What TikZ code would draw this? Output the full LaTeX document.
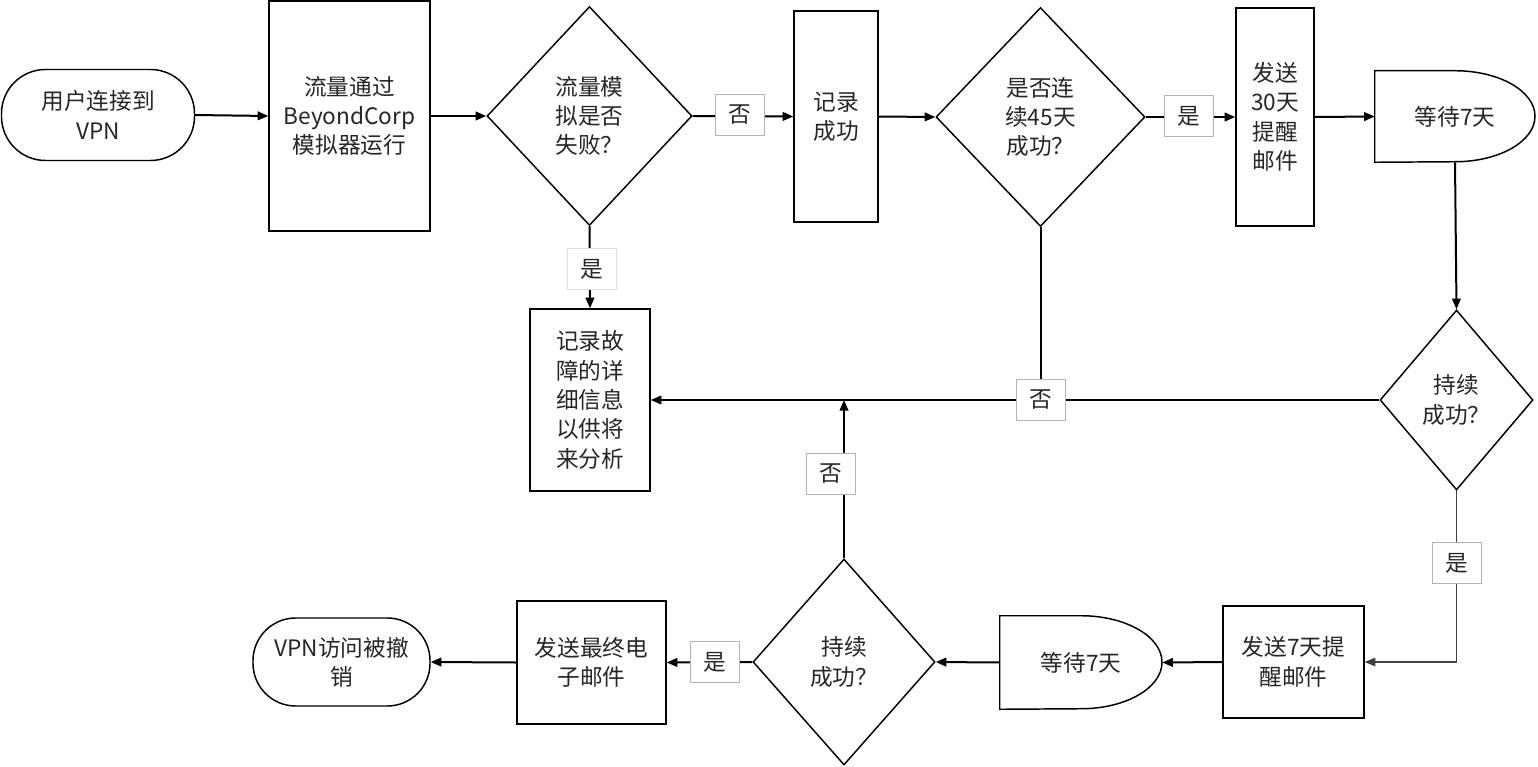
\documentclass[tikz,border=0pt]{standalone}
\usepackage{fontspec}
\setmainfont{Noto Sans CJK SC}
\usetikzlibrary{shapes.geometric,arrows.meta,calc}
\newcommand\pxu{0.75pt}
\tikzset{
  base/.style={font=\fontsize{17pt}{22pt}\selectfont, text=black!85, align=center, inner sep=0pt},
  shp/.style={draw=black, line width=1.1pt},
  box/.style={base, shp, rectangle},
  term/.style={base, shp, rectangle, rounded corners=33pt},
  dia/.style={base, shp, diamond},
  dly/.style={base, rectangle},
  arr/.style={line width=1.5pt, -{Triangle[length=8pt,width=6.5pt]}},
  ln/.style={line width=1.5pt},
  thinarr/.style={line width=0.8pt, draw=black!75, -{Triangle[length=8pt,width=6.5pt]}},
  lbl/.style={base, draw=black!30, line width=0.5pt, fill=white, minimum width=49*\pxu, minimum height=41*\pxu},
}
\begin{document}
\begin{tikzpicture}[x=0.75pt,y=0.75pt]
\useasboundingbox (0,0) rectangle (1538,-767);
% shapes
\node[term, minimum width=193*\pxu, minimum height=91*\pxu] (t1) at (98,-115) {用户连接到\\VPN};
\node[box, minimum width=161*\pxu, minimum height=230*\pxu] (r2) at (349.5,-116) {流量通过\\BeyondCorp\\模拟器运行};
\node[dia, minimum width=205*\pxu, minimum height=219*\pxu] (d3) at (589.5,-116) {流量模\\拟是否\\失败？};
\node[box, minimum width=84*\pxu, minimum height=211*\pxu] (r5) at (836,-116.5) {记录\\成功};
\node[dia, minimum width=209*\pxu, minimum height=219*\pxu] (d6) at (1040.5,-117) {是否连\\续45天\\成功？};
\node[box, minimum width=78*\pxu, minimum height=218*\pxu] (r8) at (1275,-117) {发送\\30天\\提醒\\邮件};
\node[dly, minimum width=160*\pxu, minimum height=91*\pxu] (d9) at (1455,-116.5) {等待7天};
\draw[shp] (d9.north west) -- (d9.north) arc[start angle=90,end angle=-90,x radius=80*\pxu,y radius=45.5*\pxu] -- (d9.south west) -- cycle;
\node[dia, minimum width=153*\pxu, minimum height=180*\pxu] (d10) at (1456.5,-400) {持续\\成功？};
\node[box, minimum width=120*\pxu, minimum height=182*\pxu] (r11) at (590,-400) {记录故\\障的详\\细信息\\以供将\\来分析};
\node[box, minimum width=141*\pxu, minimum height=112*\pxu] (r15) at (1293.5,-662) {发送7天提\\醒邮件};
\node[dly, minimum width=162*\pxu, minimum height=93*\pxu] (d16) at (1081,-662.5) {等待7天};
\draw[shp] (d16.north west) -- (d16.north) arc[start angle=90,end angle=-90,x radius=81*\pxu,y radius=46.5*\pxu] -- (d16.south west) -- cycle;
\node[dia, minimum width=182*\pxu, minimum height=206*\pxu] (d17) at (844,-662) {持续\\成功？};
\node[box, minimum width=149*\pxu, minimum height=123*\pxu] (r20) at (591.5,-662.5) {发送最终电\\子邮件};
\node[term, minimum width=177*\pxu, minimum height=88*\pxu, rounded corners=32pt] (t21) at (341.5,-662) {VPN访问被撤\\销};
% connectors
\draw[arr] (t1.east) -- (r2.west);
\draw[arr] (r2.east) -- (d3.west);
\draw[arr] (d3.east) -- (r5.west);
\draw[arr] (r5.east) -- (d6.west);
\draw[arr] (d6.east) -- (r8.west);
\draw[arr] (r8.east) -- (d9.west);
\draw[arr] (d9.south) -- (d10.north);
\draw[arr] (d3.south) -- (r11.north);
\draw[ln] (d6.south) -- (d6.south |- r11.east);
\draw[arr] (d10.west) -- (r11.east);
\draw[thinarr] (d10.south) |- (r15.east);
\draw[arr] (r15.west) -- (d16.east);
\draw[arr] (d16.west) -- (d17.east);
\draw[arr] (d17.north) -- (d17.north |- r11.east);
\draw[arr] (d17.west) -- (r20.east);
\draw[arr] (r20.west) -- (t21.east);
% labels
\node[lbl] (l1) at (740,-115) {否};
\node[lbl] (l2) at (1189,-116) {是};
\node[lbl, draw=black!12] (l3) at (592,-269) {是};
\node[lbl] (l4) at (1041,-400) {否};
\node[lbl] (l5) at (1457,-563) {是};
\node[lbl] (l6) at (831,-474) {否};
\node[lbl] (l7) at (715,-662) {是};
\end{tikzpicture}
\end{document}
